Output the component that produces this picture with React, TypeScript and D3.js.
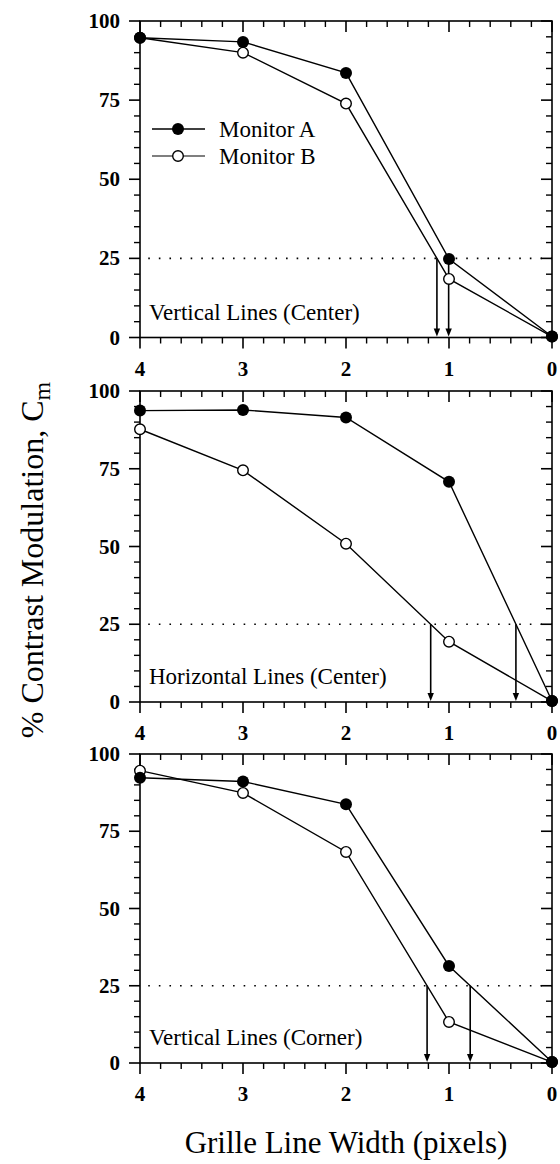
import React from "react";
import * as d3 from "d3";

// ---- data ----
const widths = [4, 3, 2, 1, 0];
const xTickValues = [4, 3, 2, 1, 0];
const yTickValues = [0, 25, 50, 75, 100];
const seriesNames = ["Monitor A", "Monitor B"];
const panelLabels = ["Vertical Lines (Center)", "Horizontal Lines (Center)", "Vertical Lines (Corner)"];

const vertCenterA = [94.7, 93.4, 83.6, 24.8, 0.3];
const vertCenterB = [94.7, 90.0, 73.9, 18.5, 0.3];
const horizCenterA = [93.7, 93.9, 91.5, 70.8, 0.3];
const horizCenterB = [87.7, 74.5, 50.9, 19.4, 0.3];
const vertCornerA = [92.3, 91.1, 83.7, 31.4, 0.3];
const vertCornerB = [94.6, 87.4, 68.3, 13.3, 0.3];
const threshold = 25;

const panels = [
  { label: panelLabels[0], a: vertCenterA, b: vertCenterB, top: 21, bottom: 337.5, legend: true },
  { label: panelLabels[1], a: horizCenterA, b: horizCenterB, top: 391, bottom: 702, legend: false },
  { label: panelLabels[2], a: vertCornerA, b: vertCornerB, top: 754, bottom: 1063, legend: false },
];

const FONT = "'Liberation Serif', 'Times New Roman', serif";
const X0 = 140;
const X1 = 552;

function crossing(vals: number[]): number | null {
  for (let i = 0; i < vals.length - 1; i++) {
    const v0 = vals[i], v1 = vals[i + 1];
    if ((v0 - threshold) * (v1 - threshold) <= 0 && v0 !== v1) {
      const t = (threshold - v0) / (v1 - v0);
      return widths[i] + t * (widths[i + 1] - widths[i]);
    }
  }
  return null;
}

function Panel({ p }: { p: typeof panels[number] }) {
  const x = d3.scaleLinear().domain([4, 0]).range([X0, X1]);
  const y = d3.scaleLinear().domain([0, 100]).range([p.bottom, p.top]);
  const line = d3
    .line<number>()
    .x((_, i) => x(widths[i]))
    .y((d) => y(d));
  const xMinor = d3.range(0, 4.0001, 0.2).filter((v) => Math.abs(v - Math.round(v)) > 1e-6);
  const yMinor = d3.range(0, 100.001, 5).filter((v) => v % 25 !== 0);
  const MAJ = 11;
  const MIN = 6;
  const crossA = crossing(p.a);
  const crossB = crossing(p.b);
  const arrows = [crossA, crossB].filter((c) => c !== null) as number[];
  return (
    <g>
      {/* dotted threshold line */}
      <line x1={x(3.92)} x2={X1} y1={y(threshold)} y2={y(threshold)} stroke="#000" strokeWidth={1.6}
        strokeDasharray="1.6,9" />
      {/* frame */}
      <rect x={X0} y={p.top} width={X1 - X0} height={p.bottom - p.top} fill="none" stroke="#000" strokeWidth={1.6} />
      {/* x ticks: top inward, bottom outward */}
      {xTickValues.map((v) => (
        <g key={"xt" + v}>
          <line x1={x(v)} x2={x(v)} y1={p.top} y2={p.top + MAJ} stroke="#000" strokeWidth={1.6} />
          <line x1={x(v)} x2={x(v)} y1={p.bottom} y2={p.bottom + MAJ} stroke="#000" strokeWidth={1.6} />
          <text x={x(v)} y={p.bottom + 38} textAnchor="middle" fontFamily={FONT} fontWeight="bold" fontSize={21}>
            {v}
          </text>
        </g>
      ))}
      {xMinor.map((v) => (
        <g key={"xm" + v}>
          <line x1={x(v)} x2={x(v)} y1={p.top} y2={p.top + MIN} stroke="#000" strokeWidth={1.4} />
          <line x1={x(v)} x2={x(v)} y1={p.bottom} y2={p.bottom + MIN} stroke="#000" strokeWidth={1.4} />
        </g>
      ))}
      {/* y ticks: left outward, right inward */}
      {yTickValues.map((v) => (
        <g key={"yt" + v}>
          <line x1={X0 - MAJ} x2={X0} y1={y(v)} y2={y(v)} stroke="#000" strokeWidth={1.6} />
          <line x1={X1 - MAJ} x2={X1} y1={y(v)} y2={y(v)} stroke="#000" strokeWidth={1.6} />
          <text x={120} y={y(v) + 7} textAnchor="end" fontFamily={FONT} fontWeight="bold" fontSize={21}>
            {v}
          </text>
        </g>
      ))}
      {yMinor.map((v) => (
        <g key={"ym" + v}>
          <line x1={X0 - MIN} x2={X0} y1={y(v)} y2={y(v)} stroke="#000" strokeWidth={1.4} />
          <line x1={X1 - MIN} x2={X1} y1={y(v)} y2={y(v)} stroke="#000" strokeWidth={1.4} />
        </g>
      ))}
      {/* arrows */}
      {arrows.map((c, i) => (
        <g key={"ar" + i}>
          <line x1={x(c)} x2={x(c)} y1={y(threshold)} y2={y(0) - 6} stroke="#000" strokeWidth={1.6} />
          <path d={`M${x(c) - 3.2},${y(0) - 9} L${x(c) + 3.2},${y(0) - 9} L${x(c)},${y(0) - 1} Z`} fill="#000" />
        </g>
      ))}
      {/* series lines */}
      <path d={line(p.b) || ""} fill="none" stroke="#000" strokeWidth={1.4} />
      <path d={line(p.a) || ""} fill="none" stroke="#000" strokeWidth={1.4} />
      {p.b.map((v, i) => (
        <circle key={"b" + i} cx={x(widths[i])} cy={y(v)} r={5.3} fill="#fff" stroke="#000" strokeWidth={1.4} />
      ))}
      {p.a.map((v, i) => (
        <circle key={"a" + i} cx={x(widths[i])} cy={y(v)} r={6} fill="#000" />
      ))}
      {/* panel label */}
      <text x={149} y={p.bottom - 18} fontFamily={FONT} fontSize={23}>
        {p.label}
      </text>
      {p.legend && (
        <g>
          <line x1={152} x2={205} y1={129} y2={129} stroke="#000" strokeWidth={1.4} />
          <circle cx={178} cy={129} r={6} fill="#000" />
          <text x={219} y={137} fontFamily={FONT} fontSize={23}>{seriesNames[0]}</text>
          <line x1={152} x2={205} y1={156} y2={156} stroke="#000" strokeWidth={1.2} />
          <circle cx={178} cy={156} r={5.3} fill="#fff" stroke="#000" strokeWidth={1.4} />
          <text x={219} y={164} fontFamily={FONT} fontSize={23}>{seriesNames[1]}</text>
        </g>
      )}
    </g>
  );
}

export default function App() {
  return (
    <svg width={560} height={1164} style={{ position: "absolute", left: 0, top: 0, background: "#fff" }}>
      <rect x={0} y={0} width={560} height={1164} fill="#fff" />
      {panels.map((p, i) => (
        <Panel key={i} p={p} />
      ))}
      <text x={346} y={1153} textAnchor="middle" fontFamily={FONT} fontSize={31}>
        Grille Line Width (pixels)
      </text>
      <text transform="translate(43,560) rotate(-90)" textAnchor="middle" fontFamily={FONT} fontSize={32}>
        % Contrast Modulation, C<tspan dy={7} fontSize={24}>m</tspan>
      </text>
    </svg>
  );
}
